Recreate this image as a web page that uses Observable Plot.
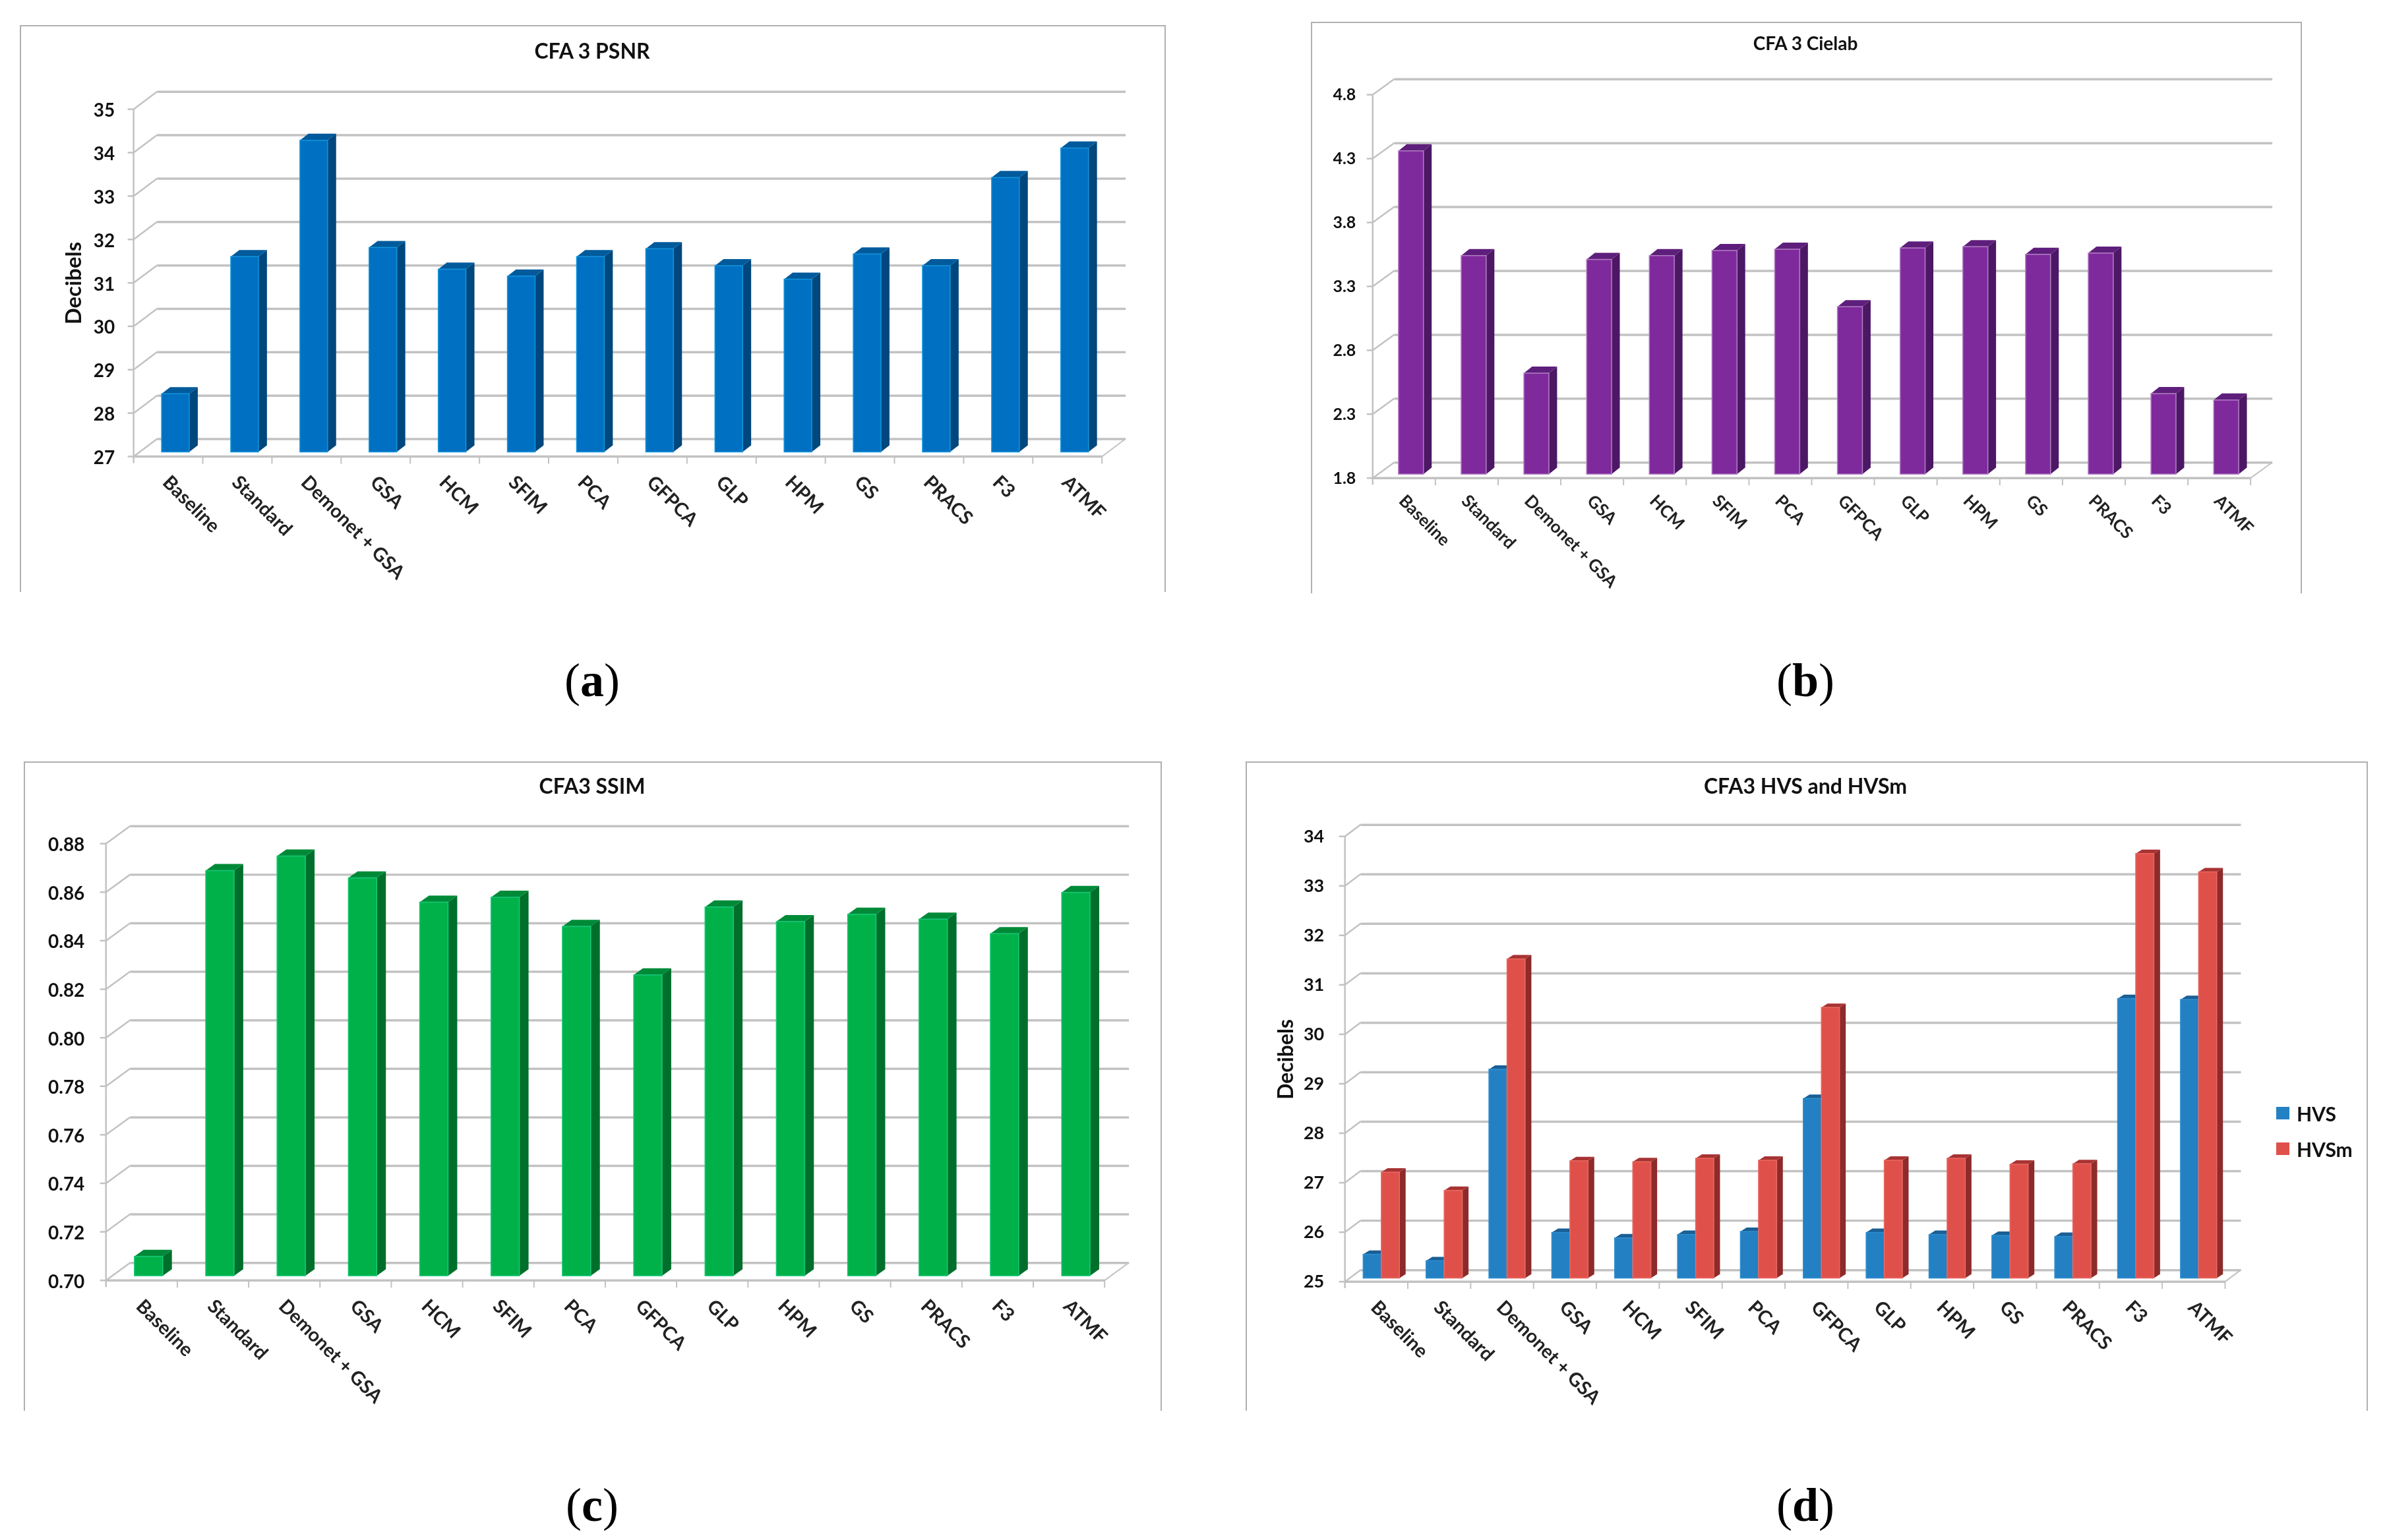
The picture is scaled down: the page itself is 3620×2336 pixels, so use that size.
<!DOCTYPE html>
<html><head><meta charset="utf-8">
<script src="https://cdn.jsdelivr.net/npm/d3@7"></script>
<script src="https://cdn.jsdelivr.net/npm/@observablehq/plot@0.6"></script>
<style>
html,body{margin:0;padding:0;background:#fff;}
#page{position:relative;width:3620px;height:2336px;overflow:hidden;background:#fff;font-family:Lato,sans-serif;}
.box{position:absolute;box-sizing:border-box;border:2px solid #b0b0b0;border-bottom:none;}
.box svg{position:absolute;left:-2px;top:-2px;overflow:visible;filter:blur(.7px);}
.title{position:absolute;transform:translate(-50%,-50%);font-weight:700;color:#111;white-space:nowrap;filter:blur(.5px);}
.cap{position:absolute;transform:translate(-50%,-50%);font-family:"Liberation Serif",serif;font-size:72px;color:#000;white-space:nowrap;}
.lg{position:absolute;font-weight:700;font-size:30px;color:#111;line-height:1;filter:blur(.5px);}
.sw{position:absolute;width:20px;height:19px;}
</style></head>
<body><div id="page"></div>
<script>
const categories = ["Baseline","Standard","Demonet + GSA","GSA","HCM","SFIM","PCA","GFPCA","GLP","HPM","GS","PRACS","F3","ATMF"];
const psnr   = [28.34,31.5,34.18,31.71,31.21,31.05,31.5,31.68,31.29,30.98,31.56,31.29,33.32,34.0];
const cielab = [4.33,3.51,2.59,3.48,3.51,3.55,3.56,3.11,3.57,3.58,3.52,3.53,2.43,2.38];
const ssim   = [0.708,0.867,0.873,0.864,0.854,0.856,0.844,0.824,0.852,0.846,0.849,0.847,0.841,0.858];
const hvs    = [25.48,25.35,29.22,25.92,25.81,25.88,25.94,28.63,25.92,25.88,25.86,25.84,30.65,30.63];
const hvsm   = [27.14,26.77,31.45,27.37,27.35,27.42,27.38,30.47,27.38,27.42,27.30,27.31,33.58,33.21];
const psnrTicks   = [27,28,29,30,31,32,33,34,35];
const cielabTicks = [1.8,2.3,2.8,3.3,3.8,4.3,4.8];
const ssimTicks   = [0.70,0.72,0.74,0.76,0.78,0.80,0.82,0.84,0.86,0.88];
const hvsTicks    = [25,26,27,28,29,30,31,32,33,34];

const GRID = "#c2c2c2";
const page = document.getElementById("page");

// Adds the side and top faces of a 3D column to every bar that Plot has placed.
function faces(sideDx, sideDy, sideFill, topFill) {
  return function (index, scales, values, dims, ctx, next) {
    const g = next(index, scales, values, dims, ctx);
    for (const r of Array.from(g.querySelectorAll("rect"))) {
      const x = +r.getAttribute("x"), y = +r.getAttribute("y"),
            w = +r.getAttribute("width"), h = +r.getAttribute("height");
      const side = ctx.document.createElementNS("http://www.w3.org/2000/svg", "polygon");
      side.setAttribute("points", `${x+w},${y} ${x+w+sideDx},${y-sideDy} ${x+w+sideDx},${y+h-sideDy} ${x+w},${y+h}`);
      side.setAttribute("fill", sideFill); side.setAttribute("stroke", "none");
      const top = ctx.document.createElementNS("http://www.w3.org/2000/svg", "polygon");
      top.setAttribute("points", `${x},${y} ${x+w},${y} ${x+w+sideDx},${y-sideDy} ${x+sideDx},${y-sideDy}`);
      top.setAttribute("fill", topFill); top.setAttribute("stroke", "none");
      g.insertBefore(side, r); g.insertBefore(top, r);
    }
    return g;
  };
}

// The walls and floor of the 3D chart box, placed with the plot's own scales.
function box3d(ticks, depthX, depthY) {
  return function (index, {x, y}, values, dims) {
    const g = d3.create("svg:g").attr("fill", "none").attr("stroke", GRID);
    const left = dims.marginLeft, right = dims.width - dims.marginRight;
    const floor = y(ticks[0]), ceil = y(ticks[ticks.length - 1]);
    g.append("line").attr("x1", left).attr("x2", left).attr("y1", ceil).attr("y2", floor + 10).attr("stroke-width", 2.5);
    g.append("line").attr("x1", left).attr("x2", right).attr("y1", floor).attr("y2", floor).attr("stroke-width", 3.5);
    for (const t of ticks) {
      g.append("line").attr("x1", left - 9).attr("x2", left).attr("y1", y(t)).attr("y2", y(t)).attr("stroke-width", 2.5);
      g.append("line").attr("x1", left).attr("x2", left + depthX).attr("y1", y(t)).attr("y2", y(t) + depthY).attr("stroke-width", 2.5);
    }
    g.append("line").attr("x1", right).attr("x2", right + depthX).attr("y1", floor).attr("y2", floor + depthY).attr("stroke-width", 2);
    for (const c of categories) {
      const e = x(c) + x.bandwidth();
      g.append("line").attr("x1", e).attr("x2", e).attr("y1", floor).attr("y2", floor + 11).attr("stroke-width", 2);
    }
    return g.node();
  };
}

function panel(o) {
  const [fx0, fy0, fx1, fy1] = o.frame;
  const w = fx1 - fx0, h = fy1 - fy0;
  const div = document.createElement("div");
  div.className = "box";
  Object.assign(div.style, {left: fx0 + "px", top: fy0 + "px", width: w + "px", height: h + "px"});
  const ymin = o.ticks[0], ymax = o.ticks[o.ticks.length - 1];
  const band = (o.x1 - o.x0) / categories.length;
  const inset = (band - o.barW) / 2;
  const barMarks = o.series.map(s => Plot.barY(
    categories.map((c, i) => ({c, v: s.values[i]})),
    {x: "c", y1: () => ymin, y2: "v", fill: s.fill, stroke: s.edge, strokeWidth: 1.5,
     insetLeft: inset, insetRight: inset, dx: s.dx, dy: o.barDy,
     render: faces(o.sideDx, o.sideDy, s.side, s.top)}));
  const svg = Plot.plot({
    width: w, height: h,
    marginLeft: o.x0 - fx0, marginRight: fx1 - o.x1,
    marginTop: o.yTop - fy0, marginBottom: fy1 - o.yBottom,
    style: {background: "transparent", overflow: "visible"},
    x: {type: "band", domain: categories, padding: 0, round: false, axis: null},
    y: {type: "linear", domain: [ymin, ymax], axis: null},
    marks: [
      Plot.ruleY(o.ticks, {stroke: GRID, strokeWidth: 3.5, dx: o.depthX, dy: o.depthY}),
      box3d(o.ticks, o.depthX, o.depthY),
      ...barMarks,
      Plot.axisY(o.ticks, {anchor: "left", tickSize: 0, tickPadding: o.yPad, tickFormat: o.fmt, label: null, dy: o.yLabelDy,
        fontSize: o.yFont, fontWeight: 700, fontFamily: "Lato", fill: "#111"}),
      Plot.axisX({anchor: "bottom", tickSize: 0, tickPadding: o.xPad, tickRotate: 45, label: null,
        fontSize: o.xFont, fontWeight: 700, fontFamily: "Lato", fill: "#222", dx: o.xLabelDx, lineWidth: 30}),
      ...(o.ylabel ? [Plot.text([o.ylabel], {frameAnchor: "left", textAnchor: "middle", rotate: -90, dx: o.ylabelDx,
        fontSize: o.ylabelFont, fontWeight: 700, fontFamily: "Lato", fill: "#111"})] : [])
    ]
  });
  div.appendChild(svg);
  page.appendChild(div);
  const t = document.createElement("div");
  t.className = "title"; t.textContent = o.title;
  Object.assign(t.style, {left: o.titleAt[0] + "px", top: o.titleAt[1] + "px", fontSize: o.titleFont + "px"});
  page.appendChild(t);
  const c = document.createElement("div");
  c.className = "cap"; c.innerHTML = `(<b>${o.cap}</b>)`;
  Object.assign(c.style, {left: o.capAt[0] + "px", top: o.capAt[1] + "px"});
  page.appendChild(c);
}

panel({
  frame: [30, 38, 1768, 898], x0: 203, x1: 1675, yTop: 166, yBottom: 694,
  ticks: psnrTicks, fmt: d3.format("d"), depthX: 36, depthY: -27,
  barW: 42, barDy: -7, sideDx: 13, sideDy: 10,
  series: [{values: psnr, dx: 11, fill: "#0070C2", edge: "#1296dc", side: "#00477E", top: "#005A9C"}],
  yPad: 29, yFont: 28, yLabelDy: 2, xPad: 34, xFont: 29, xLabelDx: -4,
  ylabel: "Decibels", ylabelDx: -91, ylabelFont: 33,
  title: "CFA 3 PSNR", titleAt: [898, 76], titleFont: 32, cap: "a", capAt: [898, 1032]
});
panel({
  frame: [1988, 33, 3491, 900], x0: 2082, x1: 3417, yTop: 144, yBottom: 727,
  ticks: cielabTicks, fmt: d3.format(".1f"), depthX: 33, depthY: -24,
  barW: 38, barDy: -6, sideDx: 12.5, sideDy: 10,
  series: [{values: cielab, dx: 10.5, fill: "#7F2A9C", edge: "#b27fc4", side: "#4C1764", top: "#5E1E7C"}],
  yPad: 26, yFont: 25, yLabelDy: 0, xPad: 30, xFont: 26, xLabelDx: -4,
  title: "CFA 3 Cielab", titleAt: [2738, 65], titleFont: 28, cap: "b", capAt: [2738, 1032]
});
panel({
  frame: [36, 1155, 1762, 2140], x0: 161, x1: 1679, yTop: 1280, yBottom: 1944,
  ticks: ssimTicks, fmt: d3.format(".2f"), depthX: 37, depthY: -27,
  barW: 43, barDy: -7, sideDx: 14, sideDy: 10,
  series: [{values: ssim, dx: 10.5, fill: "#00B14A", edge: "#18c878", side: "#006F2B", top: "#008A38"}],
  yPad: 33, yFont: 28, yLabelDy: 2, xPad: 34, xFont: 29, xLabelDx: -4,
  title: "CFA3 SSIM", titleAt: [898, 1191], titleFont: 32, cap: "c", capAt: [898, 2283]
});
panel({
  frame: [1889, 1155, 3591, 2140], x0: 2040, x1: 3378, yTop: 1269, yBottom: 1946,
  ticks: hvsTicks, fmt: d3.format("d"), depthX: 24, depthY: -18,
  barW: 27.5, barDy: -5.5, sideDx: 9.5, sideDy: 6,
  series: [
    {values: hvs,  dx: -6.25, fill: "#2380C3", edge: "#2f8fd0", side: "#1A5F95", top: "#1A5F95"},
    {values: hvsm, dx: 21.25, fill: "#E0504A", edge: "#e86a62", side: "#8E2A2A", top: "#A83333"}
  ],
  yPad: 32, yFont: 27, yLabelDy: 0, xPad: 34, xFont: 29, xLabelDx: -4,
  ylabel: "Decibels", ylabelDx: -90, ylabelFont: 32,
  title: "CFA3 HVS and HVSm", titleAt: [2738, 1191], titleFont: 32, cap: "d", capAt: [2738, 2283]
});

// Legend of panel (d)
[["HVS", "#2380C3", 1679], ["HVSm", "#E0504A", 1733]].forEach(([name, col, top]) => {
  const s = document.createElement("div"); s.className = "sw";
  Object.assign(s.style, {left: "3452px", top: top + "px", background: col});
  page.appendChild(s);
  const l = document.createElement("div"); l.className = "lg"; l.textContent = name;
  Object.assign(l.style, {left: "3483px", top: (top - 5) + "px"});
  page.appendChild(l);
});
</script></body></html>
